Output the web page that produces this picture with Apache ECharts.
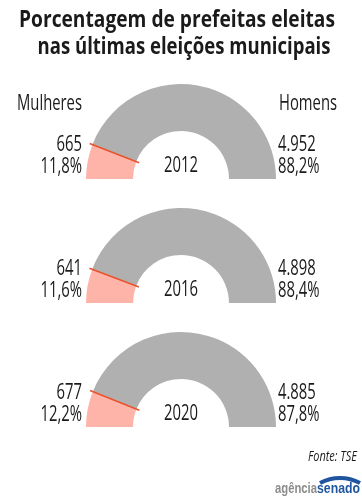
<!DOCTYPE html>
<html><head><meta charset="utf-8">
<script src="https://cdn.jsdelivr.net/npm/echarts@6/dist/echarts.min.js"></script>
<style>html,body{margin:0;padding:0;background:#fff}#c{width:362px;height:501px}</style>
</head><body><div id="c"></div>
<script>
const titleLines = ['Porcentagem de prefeitas eleitas', 'nas últimas eleições municipais'];
const years = ['2012', '2016', '2020'];
const women = [665, 641, 677];
const men = [4952, 4898, 4885];
const womenCountLabels = ['665', '641', '677'];
const menCountLabels = ['4.952', '4.898', '4.885'];
const womenPct = ['11,8%', '11,6%', '12,2%'];
const menPct = ['88,2%', '88,4%', '87,8%'];
const seriesNames = ['Mulheres', 'Homens'];
const source = 'Fonte: TSE';

const FONT = '"Open Sans","Liberation Sans",sans-serif';
const cx = 181, cys = [179, 303, 427], rIn = 48, rOut = 95, rPolar = 100;
const PINK = '#ffb4aa', GRAY = '#b0b0b0', RED = '#e8532c', TXT = '#1a1a1a';

const mctx = document.createElement('canvas').getContext('2d');
function measure(text, font) { mctx.font = font; return mctx.measureText(text).width; }
const LABEL_FONT = '21px ' + FONT;
const LABEL_SCALE = 65 / measure('Mulheres', LABEL_FONT);

function txt(text, x, y, font, align, scale, fill) {
  return { type: 'text', x: x, y: y, scaleX: scale, scaleY: 1, silent: true,
    style: { text: text, font: font, fill: fill || TXT, textAlign: align, textVerticalAlign: 'middle' } };
}

const series = [], polar = [], angleAxis = [], radiusAxis = [], graphic = [];
years.forEach((y, i) => {
  const total = women[i] + men[i];
  series.push({
    type: 'pie', center: [cx, cys[i]], radius: [rIn, rOut], startAngle: 180, clockwise: true,
    silent: true, animation: false, label: { show: false }, labelLine: { show: false },
    itemStyle: { borderWidth: 0 },
    data: [
      { name: seriesNames[0], value: women[i], itemStyle: { color: PINK } },
      { name: seriesNames[1], value: men[i], itemStyle: { color: GRAY } },
      { name: 'hidden', value: total, itemStyle: { color: 'rgba(0,0,0,0)' } }
    ]
  });
  polar.push({ center: [cx, cys[i]], radius: [0, rPolar] });
  angleAxis.push({ polarIndex: i, type: 'value', min: 0, max: 2 * total, startAngle: 180, clockwise: true, show: false });
  radiusAxis.push({ polarIndex: i, type: 'value', min: 0, max: rPolar, show: false });
  series.push({
    type: 'line', coordinateSystem: 'polar', polarIndex: i, symbol: 'none', silent: true, animation: false,
    lineStyle: { color: RED, width: 1.6 },
    data: [[rIn - 3, women[i]], [rOut + 3, women[i]]]
  });
  const cy = cys[i];
  graphic.push(
    txt(womenCountLabels[i], 82, cy - 34, LABEL_FONT, 'right', LABEL_SCALE),
    txt(womenPct[i], 82, cy - 11.5, LABEL_FONT, 'right', LABEL_SCALE),
    txt(menCountLabels[i], 278, cy - 34, LABEL_FONT, 'left', LABEL_SCALE),
    txt(menPct[i], 278, cy - 11.5, LABEL_FONT, 'left', LABEL_SCALE),
    txt(y, cx, cy - 13, LABEL_FONT, 'center', LABEL_SCALE)
  );
});

const TITLE_FONT = 'bold 23px ' + FONT;
const SRC_FONT = 'italic 15px ' + FONT;
graphic.push(
  txt(titleLines[0], 177, 20, TITLE_FONT, 'center', 316 / measure(titleLines[0], TITLE_FONT)),
  txt(titleLines[1], 184, 47, TITLE_FONT, 'center', 293 / measure(titleLines[1], TITLE_FONT)),
  txt(seriesNames[0], 82, 104.5, LABEL_FONT, 'right', LABEL_SCALE),
  txt(seriesNames[1], 279, 104.5, LABEL_FONT, 'left', LABEL_SCALE),
  txt(source, 357, 457, SRC_FONT, 'right', 49 / measure(source, SRC_FONT)),
  txt('agência', 317, 489, 'bold 14px "Liberation Sans",sans-serif', 'right', 42 / measure('agência', 'bold 14px "Liberation Sans",sans-serif'), '#8c8c8c'),
  txt('senado', 317, 489, 'bold 15px "Liberation Sans",sans-serif', 'left', 43 / measure('senado', 'bold 15px "Liberation Sans",sans-serif'), '#1f559f'),
  { type: 'arc', silent: true, shape: { cx: 340, cy: 520, r: 42, startAngle: Math.PI * 1.342, endAngle: Math.PI * 1.658 }, style: { stroke: '#1f559f', lineWidth: 4, fill: null } }
);

const chart = echarts.init(document.getElementById('c'), null, { renderer: 'canvas' });
chart.setOption({
  backgroundColor: '#ffffff',
  animation: false,
  polar, angleAxis, radiusAxis, series, graphic
});
</script></body></html>
